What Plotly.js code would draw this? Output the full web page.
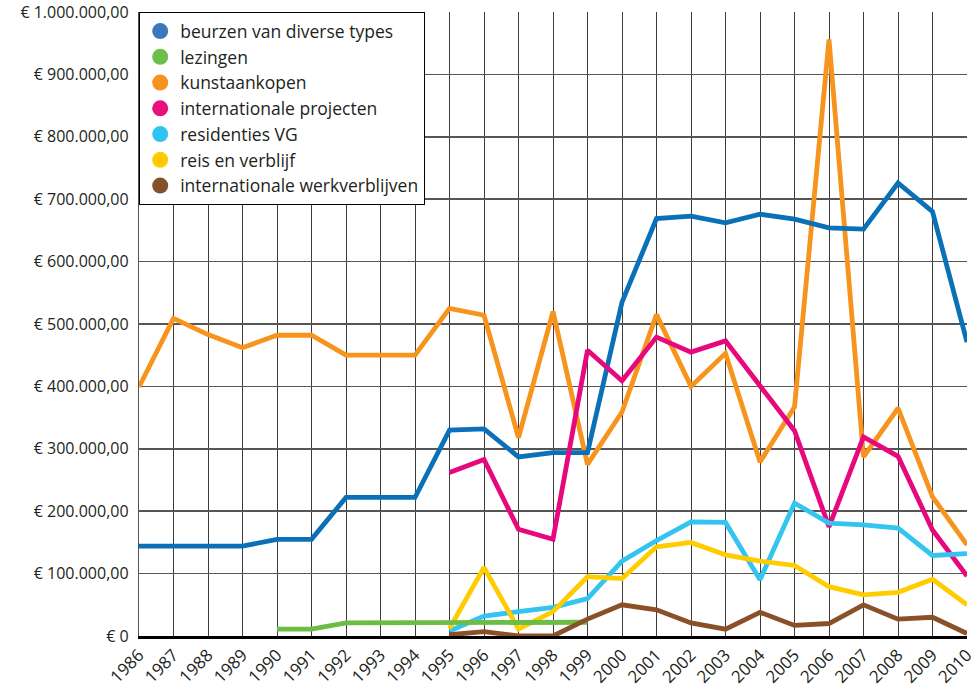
<!DOCTYPE html>
<html>
<head>
<meta charset="utf-8">
<script src="https://cdn.plot.ly/plotly-3.0.1.min.js"></script>
<style>
html,body{margin:0;padding:0;background:#fff}
#chart{width:980px;height:691px}
</style>
</head>
<body>
<div id="chart"></div>
<script>
var years = [1986,1987,1988,1989,1990,1991,1992,1993,1994,1995,1996,1997,1998,1999,2000,2001,2002,2003,2004,2005,2006,2007,2008,2009,2010];

var beurzen = [144000,144000,144000,144000,155000,155000,222000,222000,222000,330000,332000,287000,294000,294000,535000,669000,673000,662000,676000,668000,654000,652000,726000,680000,471000];
var lezingen = [null,null,null,null,11000,11000,21000,21000,21000,22000,22000,22000,22000,22000,null,null,null,null,null,null,null,null,null,null,null];
var kunstaankopen = [399000,509000,483000,462000,482000,482000,450000,450000,450000,525000,514000,318000,520000,275000,359000,515000,400000,453000,279000,367000,956000,287000,365000,223000,146000];
var projecten = [null,null,null,null,null,null,null,null,null,262000,283000,171000,155000,458000,409000,479000,455000,473000,402000,329000,175000,319000,288000,170000,96000];
var residenties = [null,null,null,null,null,null,null,null,null,8000,32000,39000,46000,60000,120000,153000,183000,182000,90000,213000,181000,178000,173000,129000,132000];
var reis = [null,null,null,null,null,null,null,null,null,12000,110000,11000,39000,95000,92000,143000,150000,130000,120000,113000,79000,66000,70000,91000,50000];
var werkverblijven = [null,null,null,null,null,null,null,null,null,2000,7000,0,0,27000,50000,42000,21000,11000,38000,17000,20000,50000,27000,30000,4000];

var names = ['beurzen van diverse types','lezingen','kunstaankopen','internationale projecten','residenties VG','reis en verblijf','internationale werkverblijven'];
var series = [beurzen, lezingen, kunstaankopen, projecten, residenties, reis, werkverblijven];
var lineColors = ['#0a71b9','#6cbd45','#f7941d','#e8087d','#33c4f0','#ffcc00','#8a5128'];
var legendColors = ['#3a77bc','#6dbe4b','#f7921e','#e90f7c','#2fc4f1','#ffca05','#85502c'];

var yTickVals = [0,100000,200000,300000,400000,500000,600000,700000,800000,900000,1000000];
var yTickText = ['€ 0','€ 100.000,00','€ 200.000,00','€ 300.000,00','€ 400.000,00','€ 500.000,00','€ 600.000,00','€ 700.000,00','€ 800.000,00','€ 900.000,00','€ 1.000.000,00'];

var traces = [];
var order = [2,0,3,4,5,1,6];
order.forEach(function(i){
  traces.push({
    x: years, y: series[i], type:'scatter', mode:'lines', name:names[i],
    line:{color:lineColors[i], width:4.8, shape:'linear'},
    connectgaps:false, showlegend:false, hoverinfo:'skip'
  });
});
for (var i=0;i<names.length;i++){
  traces.push({
    x:[null], y:[null], type:'scatter', mode:'markers', name:names[i],
    marker:{color:legendColors[i], size:16, symbol:'circle'},
    showlegend:true
  });
}

var layout = {
  width:980, height:691,
  margin:{l:139, r:13, t:12, b:55, pad:0},
  paper_bgcolor:'#fff', plot_bgcolor:'#fff',
  font:{family:'Open Sans, sans-serif', color:'#231f20', size:16},
  showlegend:true,
  legend:{x:0, y:1, xanchor:'left', yanchor:'top', bgcolor:'#fff', bordercolor:'#000', borderwidth:1.2,
          font:{size:17.5, color:'#231f20', family:'Open Sans, sans-serif'}, itemsizing:'trace', tracegroupgap:0},
  xaxis:{range:[1986,2010], tickmode:'array', tickvals:years, ticktext:years.map(String), tickangle:-45,
         showgrid:true, gridcolor:'#3c3c3c', gridwidth:1, zeroline:false,
         showline:true, linecolor:'#000', linewidth:2.5, ticks:'', tickfont:{size:17}, fixedrange:true},
  yaxis:{range:[0,1000000], tickmode:'array', tickvals:yTickVals, ticktext:yTickText,
         showgrid:true, gridcolor:'#555', gridwidth:1.5, zeroline:false,
         showline:true, linecolor:'#555', linewidth:1.2, ticks:'', ticklabelstandoff:6, tickfont:{size:16}, fixedrange:true}
};

Plotly.newPlot('chart', traces, layout, {displayModeBar:false, staticPlot:true});
</script>
</body>
</html>
